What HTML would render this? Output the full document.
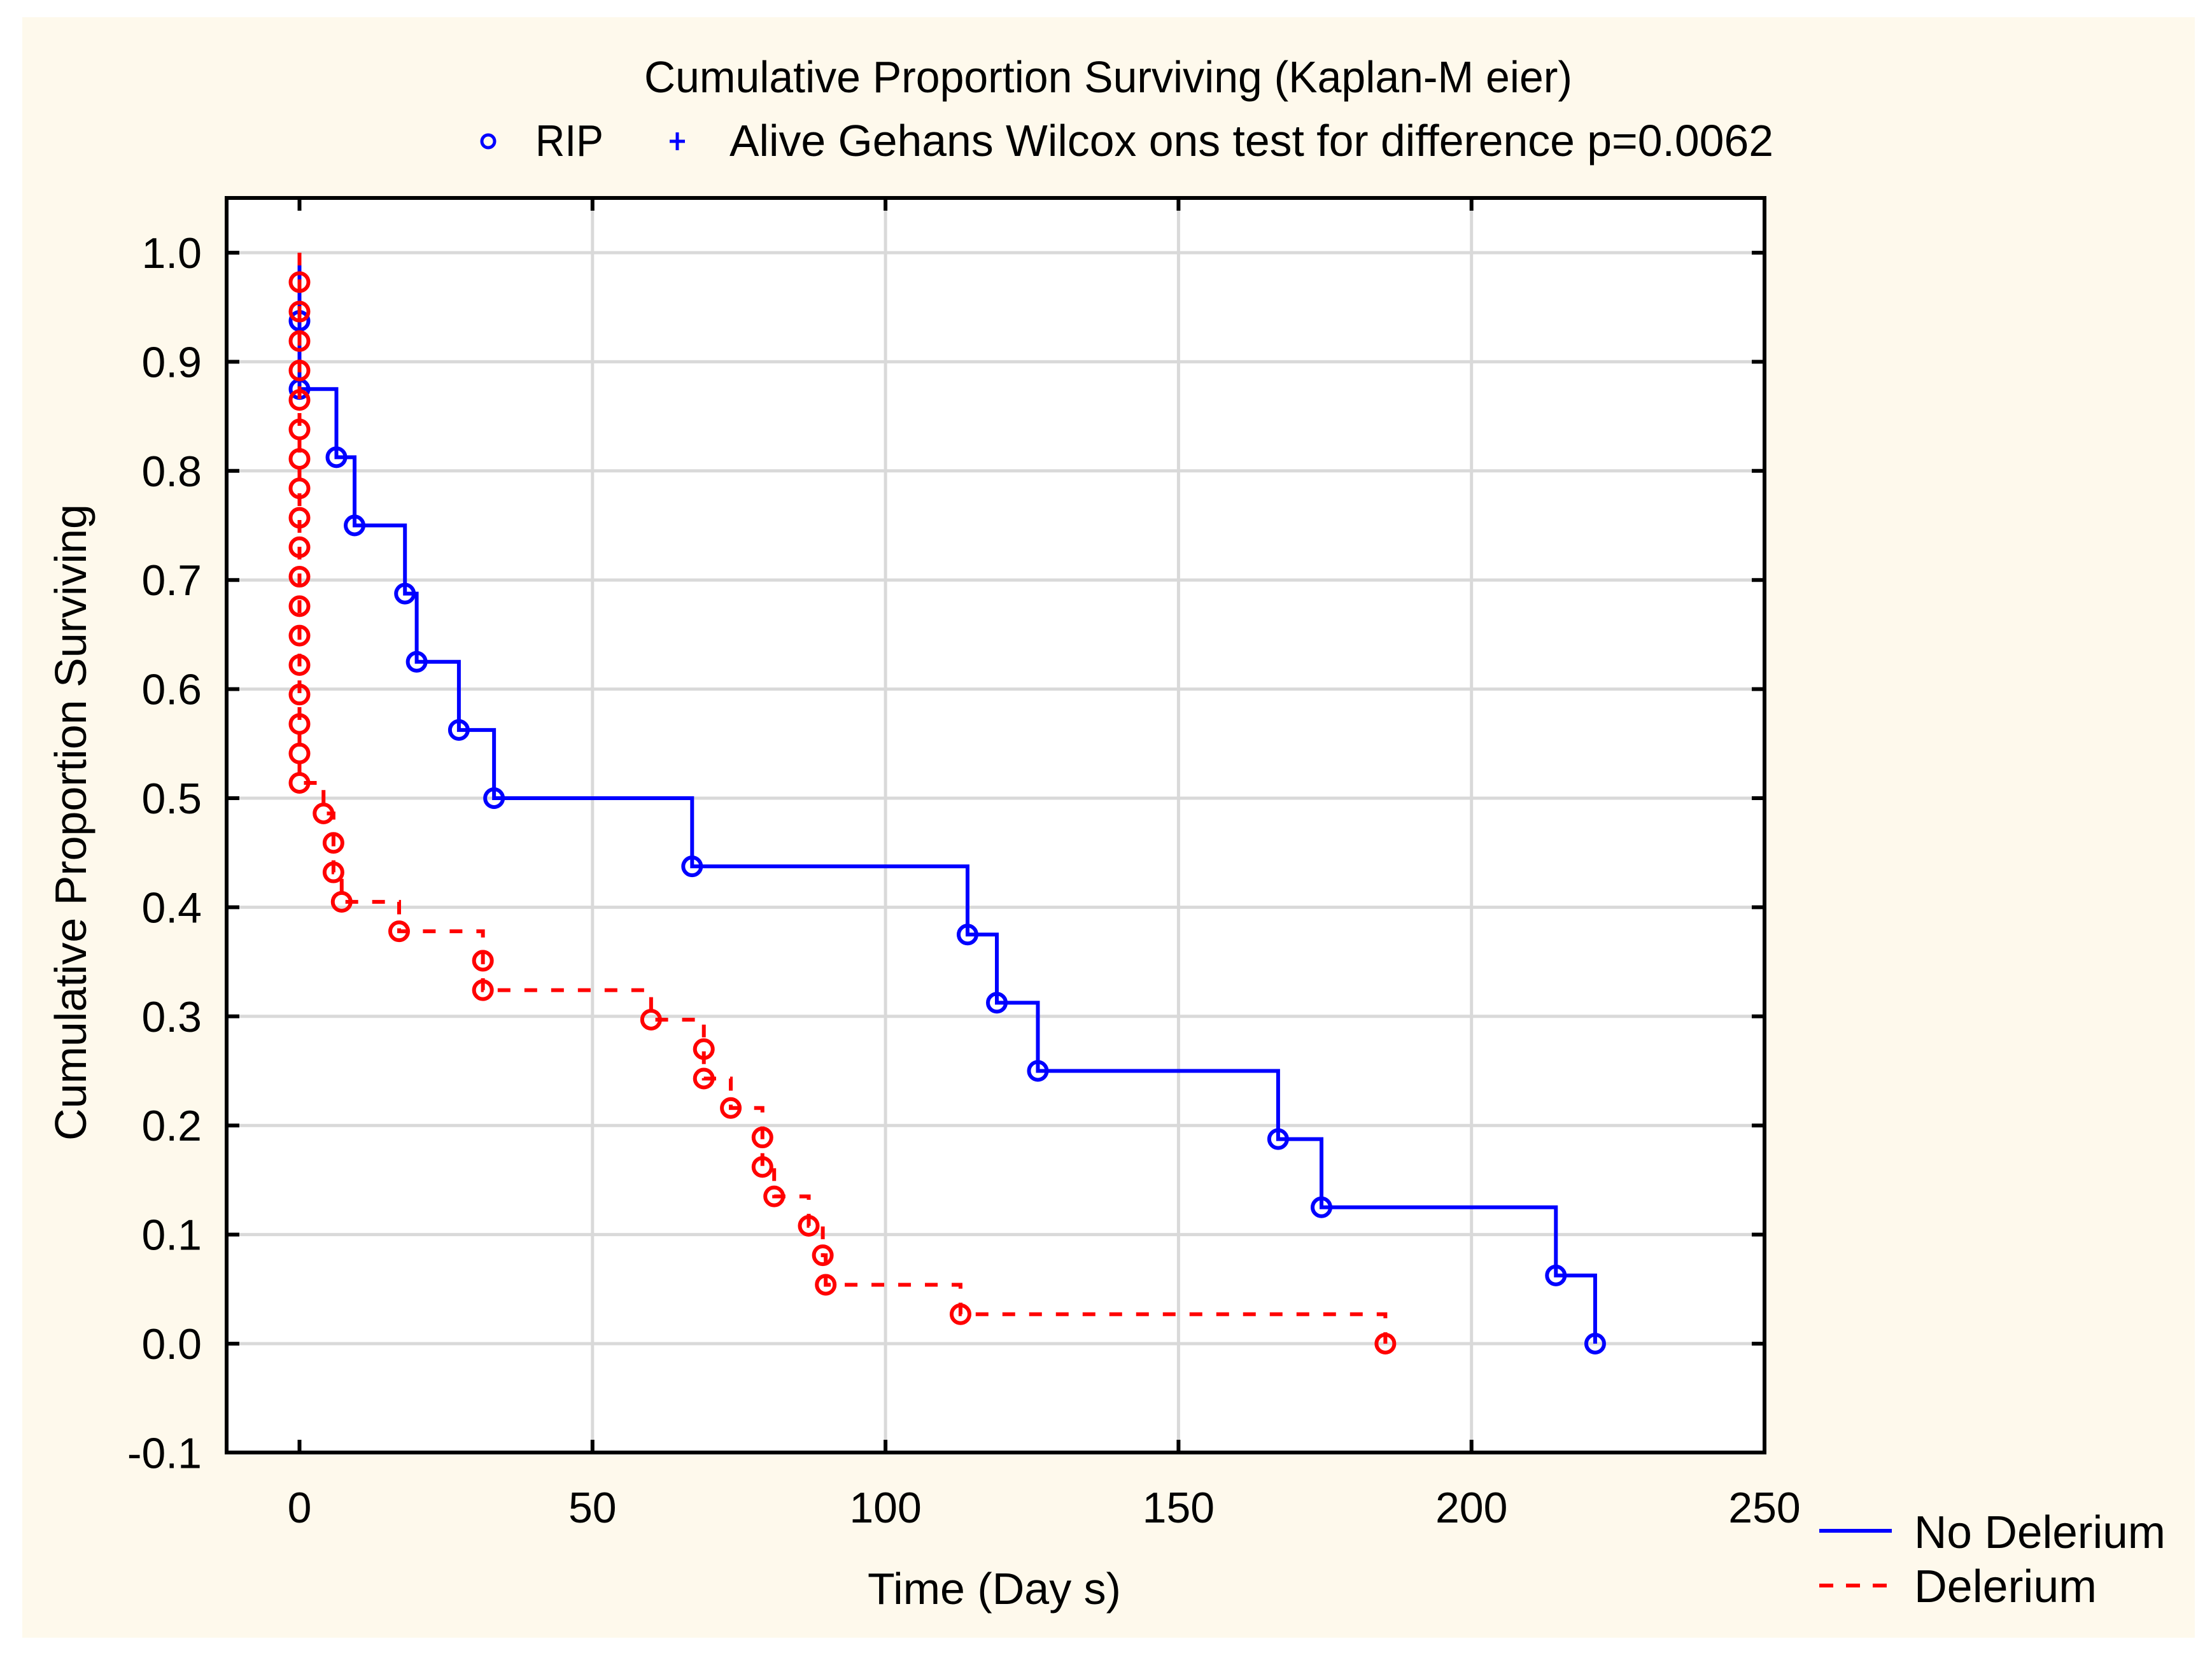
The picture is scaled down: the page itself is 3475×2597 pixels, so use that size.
<!DOCTYPE html>
<html><head><meta charset="utf-8"><style>
html,body{margin:0;padding:0;background:#fff;}
svg{display:block;}
text{font-family:"Liberation Sans",Arial,sans-serif;fill:#000;}
</style></head><body>
<svg id="chart" width="3475" height="2597" viewBox="0 0 3475 2597" xmlns="http://www.w3.org/2000/svg">
<rect x="35" y="27" width="3413" height="2546" fill="#fef9ec"/>
<rect x="356" y="311" width="2416" height="1971" fill="#fff"/>
<g id="grid"></g>
<g id="series"></g>
<rect x="356" y="311" width="2416" height="1971" fill="none" stroke="#000" stroke-width="6"/>
<g id="ticks"></g>
<text x="1012" y="145" font-size="70" textLength="1458" lengthAdjust="spacingAndGlyphs">Cumulative Proportion Surviving (Kaplan-M eier)</text>
<circle cx="767" cy="222" r="10" fill="none" stroke="#0000ff" stroke-width="5"/>
<text x="841" y="245" font-size="70" textLength="107" lengthAdjust="spacingAndGlyphs">RIP</text>
<path d="M1052 222H1076M1064 208V236" stroke="#0000ff" stroke-width="5"/>
<text x="1146" y="245" font-size="70" textLength="1640" lengthAdjust="spacingAndGlyphs">Alive Gehans Wilcox ons test for difference p=0.0062</text>
<text x="1562" y="2520" font-size="70" text-anchor="middle">Time (Day s)</text>
<text x="0" y="0" font-size="70" text-anchor="middle" transform="translate(135,1292) rotate(-90)">Cumulative Proportion Surviving</text>
<line x1="2858" y1="2405" x2="2972" y2="2405" stroke="#0000ff" stroke-width="6"/>
<text x="3007" y="2432" font-size="72" textLength="395" lengthAdjust="spacingAndGlyphs">No Delerium</text>
<line x1="2858" y1="2491" x2="2972" y2="2491" stroke="#ff0000" stroke-width="6" stroke-dasharray="22,20"/>
<text x="3007" y="2517" font-size="72" textLength="287" lengthAdjust="spacingAndGlyphs">Delerium</text>
</svg>
<script>
const xTicks=[0,50,100,150,200,250];
const yTicks=[-0.1,0,0.1,0.2,0.3,0.4,0.5,0.6,0.7,0.8,0.9,1.0];
const yTickLabels=["-0.1","0.0","0.1","0.2","0.3","0.4","0.5","0.6","0.7","0.8","0.9","1.0"];
// No Delerium (n=16): event times and survival after event
const noDelTimes=[0,0,6.3,9.4,18,20,27.2,33.2,67,114,119,126,167,174.4,214.4,221.1];
const noDelSurv=[0.9375,0.875,0.8125,0.75,0.6875,0.625,0.5625,0.5,0.4375,0.375,0.3125,0.25,0.1875,0.125,0.0625,0];
// Delerium (n=37)
const delTimes=[0,0,0,0,0,0,0,0,0,0,0,0,0,0,0,0,0,0,4.1,5.8,5.8,7.2,17,31.3,31.3,60,69,69,73.6,79,79,81,86.9,89.3,89.8,112.8,185.3];
const delSurv=[0.973,0.946,0.919,0.892,0.865,0.838,0.811,0.784,0.757,0.730,0.703,0.676,0.649,0.622,0.595,0.568,0.541,0.514,0.486,0.459,0.432,0.405,0.378,0.351,0.324,0.297,0.270,0.243,0.216,0.189,0.162,0.135,0.108,0.081,0.054,0.027,0];

const NS="http://www.w3.org/2000/svg";
const X0=470.5,X1=2772,Y0=2111,YTOP=397;
const xs=v=>X0+(X1-X0)*v/250;
const ys=v=>Y0-(Y0-YTOP)*v;
function mk(tag,attrs,parent){const e=document.createElementNS(NS,tag);for(const k in attrs)e.setAttribute(k,attrs[k]);parent.appendChild(e);return e;}
const grid=document.getElementById('grid'),ticks=document.getElementById('ticks'),series=document.getElementById('series');
xTicks.forEach(t=>{
  const x=xs(t);
  if(t>0&&t<250){const g=mk('line',{x1:x,y1:311,x2:x,y2:2282,stroke:'#d9d9d9','stroke-width':5},grid);
  
  }
  if(t<250){const tk=mk('path',{d:`M${x} 311V331M${x} 2282V2262`,stroke:'#000','stroke-width':6},ticks);
  
  }
  const lb=mk('text',{x:x,y:2392,'font-size':68,'text-anchor':'middle'},ticks);
  lb.textContent=String(t);
  
  
});
yTicks.forEach((t,i)=>{
  const y=ys(t);
  if(i>0){const g=mk('line',{x1:356,y1:y,x2:2772,y2:y,stroke:'#d9d9d9','stroke-width':5},grid);
  
  
  const tk=mk('path',{d:`M356 ${y}H376M2772 ${y}H2752`,stroke:'#000','stroke-width':6},ticks);
  
  }
  const lb=mk('text',{x:317,y:y+24,'font-size':68,'text-anchor':'end'},ticks);
  lb.textContent=yTickLabels[i];
  
  
});
function drawSeries(times,surv,color,dash,name){
  let d=`M${xs(0)} ${ys(1)}`;
  times.forEach((t,i)=>{d+=`H${xs(t)}V${ys(surv[i])}`;});
  const p=mk('path',{d:d,fill:'none',stroke:color,'stroke-width':6},series);
  if(dash)p.setAttribute('stroke-dasharray',dash);
  
  
  times.forEach((t,i)=>{
    const c=mk('circle',{cx:xs(t),cy:ys(surv[i]),r:14,fill:'none',stroke:color,'stroke-width':6},series);
    
    
  });
}
drawSeries(noDelTimes,noDelSurv,'#0000ff',null,'no-delerium');
drawSeries(delTimes,delSurv,'#ff0000','20,22','delerium');
</script>
</body></html>
